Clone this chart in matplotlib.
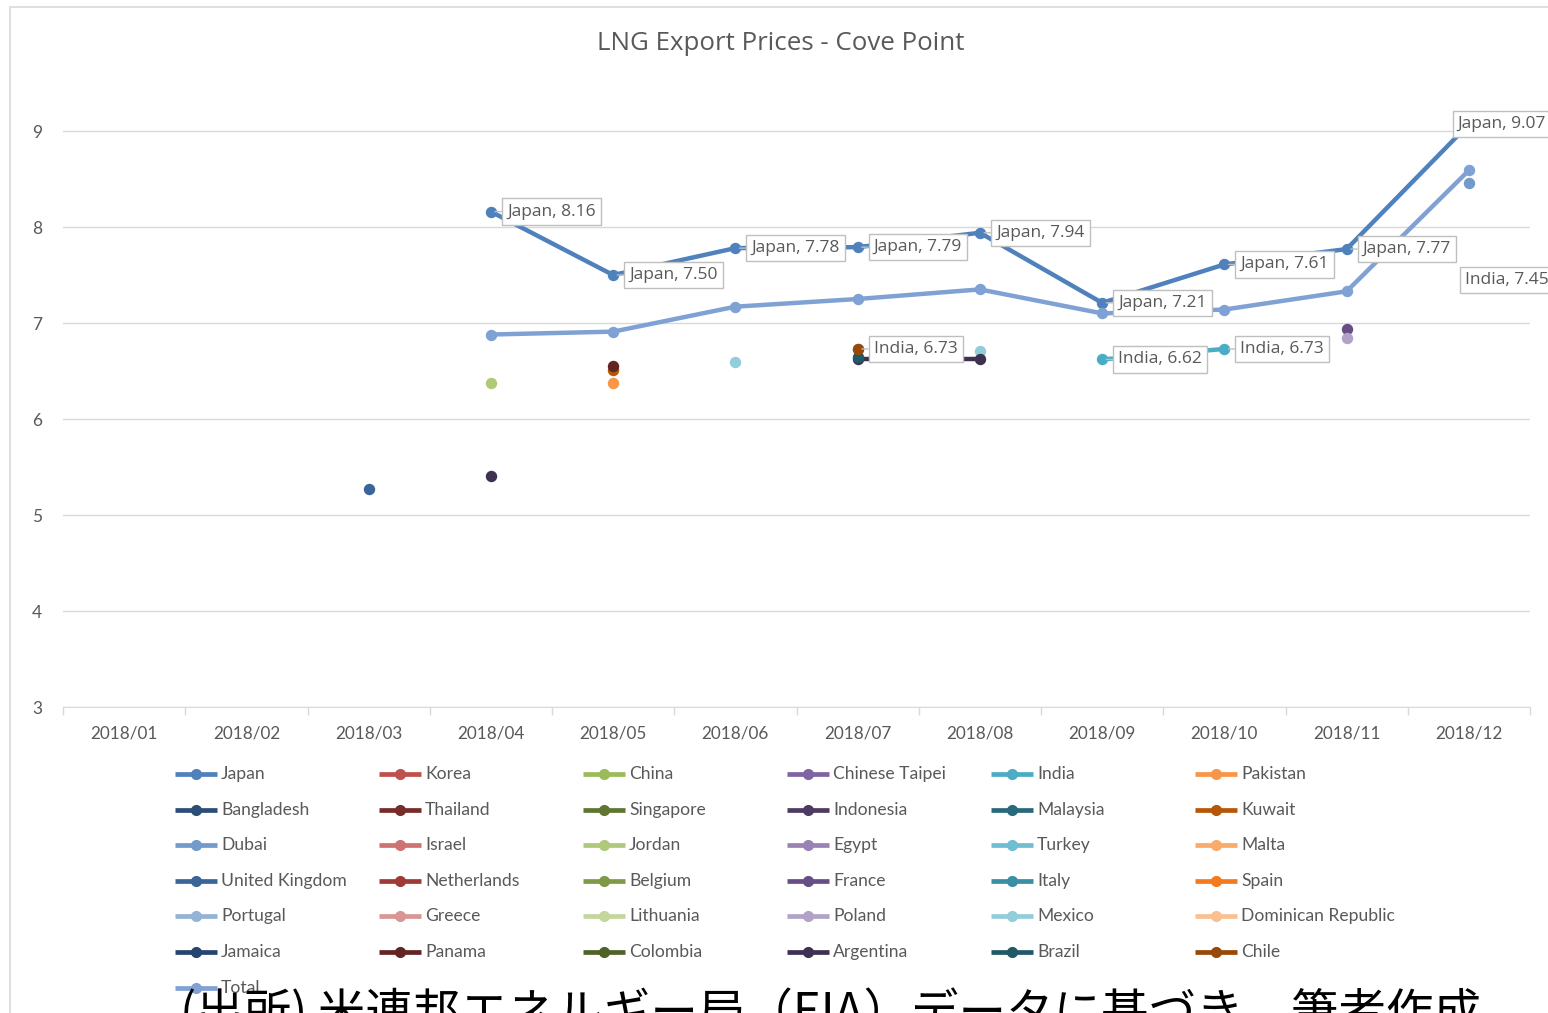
import numpy as np
import matplotlib
matplotlib.use("Agg")
import matplotlib.pyplot as plt
from matplotlib.lines import Line2D
from matplotlib.patches import Rectangle

nan = np.nan
months = ["2018/01", "2018/02", "2018/03", "2018/04", "2018/05", "2018/06",
          "2018/07", "2018/08", "2018/09", "2018/10", "2018/11", "2018/12"]

series_names = ["Japan", "Korea", "China", "Chinese Taipei", "India", "Pakistan",
                "Bangladesh", "Thailand", "Singapore", "Indonesia", "Malaysia", "Kuwait",
                "Dubai", "Israel", "Jordan", "Egypt", "Turkey", "Malta",
                "United Kingdom", "Netherlands", "Belgium", "France", "Italy", "Spain",
                "Portugal", "Greece", "Lithuania", "Poland", "Mexico", "Dominican Republic",
                "Jamaica", "Panama", "Colombia", "Argentina", "Brazil", "Chile", "Total"]

series_colors = ["#4F81BD", "#C0504D", "#9BBB59", "#8064A2", "#4BACC6", "#F79646",
                 "#2C4D75", "#772C2A", "#5F7530", "#4D3B62", "#276A7C", "#B65708",
                 "#729ACA", "#CD7371", "#AFC97A", "#9983B5", "#6FBDD1", "#F9AB6B",
                 "#3A6599", "#9E3B38", "#7E9A47", "#664F85", "#3A8FA5", "#F47A1F",
                 "#95B3D7", "#D99694", "#C3D69B", "#B3A2C7", "#92CDDC", "#FAC090",
                 "#264470", "#632523", "#4F6228", "#3F3151", "#215968", "#984807",
                 "#7FA1D3"]

# values by month (nan = no export)
japan = [nan, nan, nan, 8.16, 7.50, 7.78, 7.79, 7.94, 7.21, 7.61, 7.77, 9.07]
india = [nan, nan, nan, nan, nan, nan, 6.73, nan, 6.62, 6.73, nan, 7.45]
pakistan = [nan, nan, nan, nan, 6.38, nan, nan, nan, nan, nan, nan, nan]
kuwait = [nan, nan, nan, nan, 6.51, nan, nan, nan, nan, nan, nan, nan]
dubai = [nan, nan, nan, nan, nan, nan, nan, nan, nan, nan, nan, 8.46]
jordan = [nan, nan, nan, 6.38, nan, nan, nan, nan, nan, nan, nan, nan]
united_kingdom = [nan, nan, 5.27, nan, nan, nan, nan, nan, nan, nan, nan, nan]
france = [nan, nan, nan, nan, nan, nan, nan, nan, nan, nan, 6.94, nan]
poland = [nan, nan, nan, nan, nan, nan, nan, nan, nan, nan, 6.84, nan]
mexico = [nan, nan, nan, nan, nan, 6.59, nan, 6.71, nan, nan, nan, nan]
panama = [nan, nan, nan, nan, 6.55, nan, nan, nan, nan, nan, nan, nan]
argentina = [nan, nan, nan, 5.41, nan, nan, 6.63, 6.63, nan, nan, nan, nan]
brazil = [nan, nan, nan, nan, nan, nan, 6.65, nan, nan, nan, nan, nan]
chile = [nan, nan, nan, nan, nan, nan, 6.73, nan, nan, nan, nan, nan]
total = [nan, nan, nan, 6.88, 6.91, 7.17, 7.25, 7.35, 7.10, 7.14, 7.33, 8.59]

series_values = {
    "Japan": japan, "India": india, "Pakistan": pakistan, "Kuwait": kuwait,
    "Dubai": dubai, "Jordan": jordan, "United Kingdom": united_kingdom,
    "France": france, "Poland": poland, "Mexico": mexico, "Panama": panama,
    "Argentina": argentina, "Brazil": brazil, "Chile": chile, "Total": total,
}

title = "LNG Export Prices - Cove Point"
source_note = "(出所) 米連邦エネルギー局（EIA）データに基づき、筆者作成"

W, H = 1548, 1013
fig = plt.figure(figsize=(W / 100, H / 100), dpi=100)
fig.patch.set_facecolor("white")

# chart border
fig.add_artist(Rectangle((10 / W, -0.05), 1.2, (1013 - 7) / H + 0.05, transform=fig.transFigure,
                         fill=False, edgecolor="#D9D9D9", lw=1.2))

gray = "#595959"
grid_c = "#D9D9D9"
ax_top = 95
ax = fig.add_axes([63 / W, (H - 707) / H, (1530 - 63) / W, (707 - ax_top) / H])
x = np.arange(len(months))
ax.set_xlim(-0.5, len(months) - 0.5)
ax.set_ylim(3, 3 + (707 - ax_top) / 96)
ax.set_yticks([3, 4, 5, 6, 7, 8, 9])
ax.set_yticklabels(["3", "4", "5", "6", "7", "8", "9"], fontsize=12.5, color=gray, family="Lato")
ax.set_xticks(x)
ax.set_xticklabels(months, fontsize=12.3, color=gray, family="Lato")
ax.set_xticks(np.arange(-0.5, len(months), 1.0), minor=True)
ax.tick_params(axis="y", length=0, pad=15)
ax.tick_params(axis="x", which="major", length=0, pad=13)
ax.tick_params(axis="x", which="minor", length=6, color=grid_c, width=1)
for s in ["top", "right", "left"]:
    ax.spines[s].set_visible(False)
ax.spines["bottom"].set_color(grid_c)
ax.yaxis.grid(True, color=grid_c, lw=1)
ax.set_axisbelow(True)
ax.patch.set_alpha(0)

for name, col in zip(series_names, series_colors):
    if name in series_values:
        ax.plot(x, series_values[name], color=col, lw=3.2, marker="o", ms=7.2,
                solid_capstyle="round", clip_on=False, zorder=3)

def add_label(name, i, val, dx_pt):
    ax.annotate(f"{name}, {val:.2f}", xy=(x[i], val), xytext=(dx_pt, 0),
                textcoords="offset points", ha="left", va="center",
                fontsize=12.5, color=gray, family="Open Sans",
                bbox=dict(boxstyle="square,pad=0.3", fc="white", ec="#BFBFBF", lw=1),
                arrowprops=dict(arrowstyle="-", color="#BFBFBF", lw=1, shrinkA=0, shrinkB=3),
                zorder=6, annotation_clip=False)

for i, v in enumerate(japan):
    if not np.isnan(v):
        add_label("Japan", i, v, -8.0 if i == 11 else 11.6)
for i, v in enumerate(india):
    if not np.isnan(v):
        add_label("India", i, v, -3.0 if i == 11 else 11.6)

# title
fig.text(781 / W, 1 - 43 / H, title, ha="center", va="center", fontsize=18.6,
         color=gray, family="Open Sans")

# legend (row-major like the original)
for k, (name, col) in enumerate(zip(series_names, series_colors)):
    r, c = divmod(k, 6)
    x0 = 175 + c * 204
    yy = 1 - (774 + r * 35.6) / H
    fig.add_artist(Line2D([x0 / W, (x0 + 21) / W, (x0 + 42) / W], [yy, yy, yy],
                          transform=fig.transFigure, color=col, lw=3.4,
                          marker="o", ms=7, markevery=[1], solid_capstyle="butt"))
    fig.text((x0 + 46) / W, yy, name, ha="left", va="center", fontsize=12.6,
             color=gray, family="Lato")

# source note (cut at bottom in the original)
fig.text(180 / W, 1 - 1028 / H, source_note, ha="left", va="baseline", fontsize=34.2,
         color="black", family=["Noto Sans CJK JP", "DejaVu Sans"])

fig.savefig("out.png", dpi=100)
